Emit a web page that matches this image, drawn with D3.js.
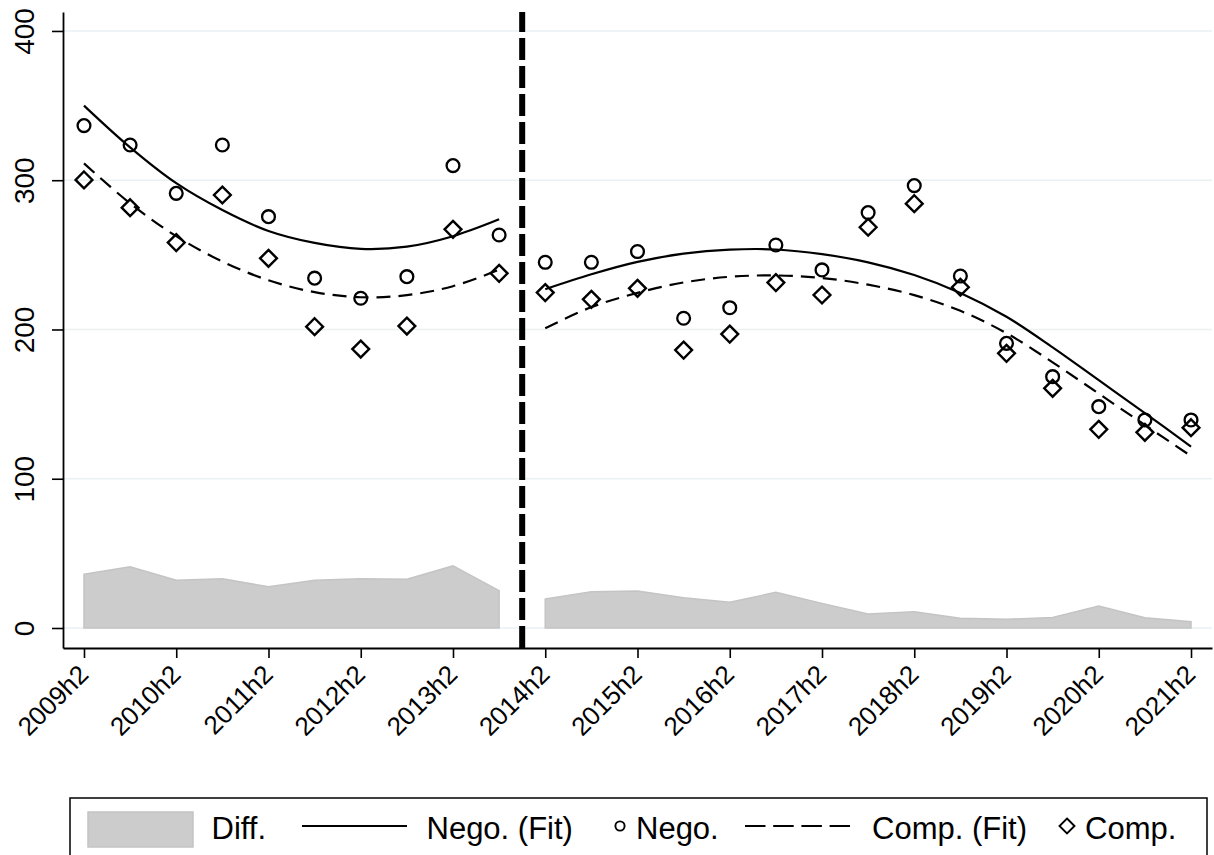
<!DOCTYPE html>
<html>
<head>
<meta charset="utf-8">
<script src="https://cdn.jsdelivr.net/npm/d3@7/dist/d3.min.js"></script>
<style>
  html, body { margin: 0; padding: 0; background: #fff; }
  svg { display: block; font-family: "Liberation Sans", Arial, Helvetica, sans-serif; }
</style>
</head>
<body>
<svg id="chart" width="1214" height="855"></svg>
<script>
// ---- data ----
const periods = ["2009h2","2010h1","2010h2","2011h1","2011h2","2012h1","2012h2","2013h1","2013h2","2014h1",
                 "2014h2","2015h1","2015h2","2016h1","2016h2","2017h1","2017h2","2018h1","2018h2","2019h1",
                 "2019h2","2020h1","2020h2","2021h1","2021h2"];
const tickLabels = ["2009h2","2010h2","2011h2","2012h2","2013h2","2014h2","2015h2","2016h2","2017h2","2018h2","2019h2","2020h2","2021h2"];
const yTicks = [0, 100, 200, 300, 400];
const nego = [336.6, 323.6, 291.2, 323.6, 275.6, 234.4, 220.9, 235.4, 309.8, 263.3,
              245.0, 245.0, 252.2, 207.5, 214.6, 256.6, 239.9, 278.3, 296.4, 235.8,
              190.7, 168.4, 148.3, 139.4, 139.4];
const comp = [300.2, 281.6, 258.2, 290.1, 247.7, 201.9, 186.9, 202.3, 267.1, 237.6,
              224.7, 220.2, 227.6, 186.2, 196.9, 231.4, 223.1, 268.5, 284.3, 228.3,
              184.0, 160.6, 133.1, 131.1, 134.2];
const diff = [36.0, 41.0, 32.0, 33.0, 27.6, 32.0, 33.0, 32.7, 41.6, 25.0,
              19.4, 24.3, 24.8, 20.3, 17.2, 23.9, 16.5, 9.4, 10.9, 6.5,
              5.8, 7.1, 14.7, 6.9, 4.2];
const negoFit = [350, 322, 298, 280, 266, 258, 254, 255.5, 262.5, 273.8,
                 227, 237, 245.3, 250.8, 253.5, 253.6, 250.5, 245, 236.5, 224.5,
                 208.5, 188, 166, 144, 121.5];
const compFit = [311.3, 284.5, 262.5, 245.5, 233, 225, 221.6, 223, 229, 240,
                 200.8, 215, 224.5, 231.5, 235.3, 236.2, 234.5, 230, 223, 212.5,
                 197.5, 178, 157, 136, 115.2];
const lastPreBreak = "2014h1";
const legendLabels = ["Diff.", "Nego. (Fit)", "Nego.", "Comp. (Fit)", "Comp."];

// ---- layout ----
const svg = d3.select("#chart");
const L = 63, R = 1212, T = 12, B = 648;
const FS_Y = 28, FS_X = 26, FS_LEG = 31;
const idx = periods.map((_, i) => i);
const brk = periods.indexOf(lastPreBreak);
const segments = [idx.filter(i => i <= brk), idx.filter(i => i > brk)];

const x = d3.scaleLinear().domain([-0.455, periods.length - 1 + 0.455]).range([L, R]);
const y = d3.scaleLinear().domain([-13.4, 412.7]).range([B, T]);

// grid
svg.append("g").selectAll("line").data(yTicks).join("line")
  .attr("x1", L).attr("x2", R)
  .attr("y1", d => y(d)).attr("y2", d => y(d))
  .attr("stroke", "#eaf1f3").attr("stroke-width", 1.6);

// diff area
const area = d3.area().x(i => x(i)).y0(() => y(0)).y1(i => y(diff[i]));
svg.append("g").selectAll("path").data(segments).join("path")
  .attr("d", area)
  .attr("fill", "#cccccc").attr("stroke", "#c4c4c4").attr("stroke-width", 1.5);

// fit lines
const curve = d3.curveCatmullRom.alpha(0.5);
const lineN = d3.line().x(i => x(i)).y(i => y(negoFit[i])).curve(curve);
const lineC = d3.line().x(i => x(i)).y(i => y(compFit[i])).curve(curve);
svg.append("g").selectAll("path").data(segments).join("path")
  .attr("d", lineN).attr("fill", "none").attr("stroke", "#000").attr("stroke-width", 2.2);
svg.append("g").selectAll("path").data(segments).join("path")
  .attr("d", lineC).attr("fill", "none").attr("stroke", "#000").attr("stroke-width", 2.2)
  .attr("stroke-dasharray", "14,8");

// markers
svg.append("g").selectAll("circle").data(idx).join("circle")
  .attr("cx", i => x(i)).attr("cy", i => y(nego[i])).attr("r", 6.4)
  .attr("fill", "none").attr("stroke", "#000").attr("stroke-width", 2.3);
const dia = (cx, cy, s) => `M${cx},${cy - s}L${cx + s},${cy}L${cx},${cy + s}L${cx - s},${cy}Z`;
svg.append("g").selectAll("path").data(idx).join("path")
  .attr("d", i => dia(x(i), y(comp[i]), 8.4))
  .attr("fill", "none").attr("stroke", "#000").attr("stroke-width", 2.4);

// break line
svg.append("line")
  .attr("x1", x(brk + 0.5)).attr("x2", x(brk + 0.5))
  .attr("y1", B).attr("y2", T)
  .attr("stroke", "#000").attr("stroke-width", 6).attr("stroke-dasharray", "22,6");

// axes
const yAxis = svg.append("g").attr("transform", `translate(${L},0)`)
  .call(d3.axisLeft(y).tickValues(yTicks).tickSize(11).tickSizeOuter(0));
yAxis.select(".domain").attr("stroke-width", 1.8);
yAxis.selectAll(".tick line").attr("stroke-width", 1.6);
yAxis.selectAll(".tick text")
  .attr("transform", "rotate(-90)").attr("x", 0).attr("y", -29).attr("dy", 0)
  .attr("text-anchor", "middle").style("font-size", FS_Y + "px").attr("fill", "#000");

const tickIdx = tickLabels.map(t => periods.indexOf(t));
const xAxis = svg.append("g").attr("transform", `translate(0,${B})`)
  .call(d3.axisBottom(x).tickValues(tickIdx).tickFormat(i => periods[i]).tickSize(10).tickSizeOuter(0));
xAxis.select(".domain").attr("stroke-width", 1.8);
xAxis.selectAll(".tick line").attr("stroke-width", 1.6);
xAxis.selectAll(".tick text")
  .attr("x", 0).attr("y", 0).attr("dy", 0)
  .attr("transform", "translate(5.5,28) rotate(-45)")
  .attr("text-anchor", "end").style("font-size", FS_X + "px").attr("fill", "#000");
svg.selectAll(".domain").attr("stroke", "#000");
svg.selectAll("g").attr("font-family", null);

// legend
const lg = svg.append("g");
lg.append("rect").attr("x", 70).attr("y", 798).attr("width", 1137).attr("height", 90)
  .attr("fill", "#fff").attr("stroke", "#000").attr("stroke-width", 1.5);
const ly = 826, tb = 839;
lg.append("rect").attr("x", 88).attr("y", 812).attr("width", 105).attr("height", 35)
  .attr("fill", "#cccccc").attr("stroke", "#c4c4c4").attr("stroke-width", 1.5);
lg.append("line").attr("x1", 302).attr("x2", 407).attr("y1", ly).attr("y2", ly)
  .attr("stroke", "#000").attr("stroke-width", 2.2);
lg.append("circle").attr("cx", 620).attr("cy", ly).attr("r", 4.6)
  .attr("fill", "none").attr("stroke", "#000").attr("stroke-width", 1.9);
lg.append("line").attr("x1", 745).attr("x2", 850).attr("y1", ly).attr("y2", ly)
  .attr("stroke", "#000").attr("stroke-width", 2.2).attr("stroke-dasharray", "20.5,7.7");
lg.append("path").attr("d", dia(1067, ly, 7.5))
  .attr("fill", "none").attr("stroke", "#000").attr("stroke-width", 1.9);
const textX = [211.5, 426.5, 636, 872, 1085];
lg.selectAll("text").data(legendLabels).join("text")
  .attr("x", (d, i) => textX[i]).attr("y", tb)
  .style("font-size", FS_LEG + "px").attr("fill", "#000").text(d => d);
</script>
</body>
</html>
